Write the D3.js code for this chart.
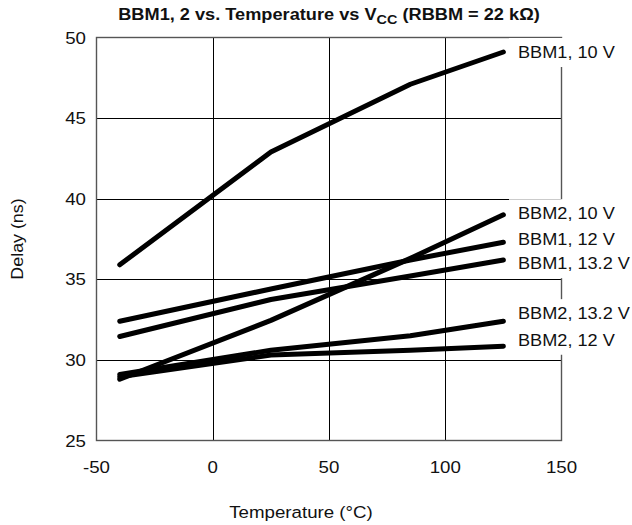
<!DOCTYPE html>
<html>
<head>
<meta charset="utf-8">
<script src="https://cdn.jsdelivr.net/npm/d3@7"></script>
<style>
  body { margin: 0; background: #fff; }
  svg text { font-family: "Liberation Sans", Arial, sans-serif; fill: #111; }
</style>
</head>
<body>
<svg id="chart" width="632" height="525"></svg>
<script>
// temperatures (°C) where the curves were measured
const temps = [-40, 25, 85, 125];

// delay (ns) per series
const bbm1_10 = [35.9, 42.9, 47.1, 49.1];
const bbm2_10 = [28.8, 32.45, 36.3, 39.0];
const bbm1_12 = [32.4, 34.4, 36.2, 37.3];
const bbm1_132 = [31.45, 33.75, 35.2, 36.2];
const bbm2_132 = [29.1, 30.6, 31.5, 32.4];
const bbm2_12 = [28.95, 30.3, 30.6, 30.85];

const seriesNames = ["BBM1, 10 V", "BBM2, 10 V", "BBM1, 12 V", "BBM1, 13.2 V", "BBM2, 13.2 V", "BBM2, 12 V"];
const seriesValues = [bbm1_10, bbm2_10, bbm1_12, bbm1_132, bbm2_132, bbm2_12];
// delay value at which each end label sits
const labelAt = [49.1, 39.1, 37.5, 36.0, 32.9, 31.25];

const xTicks = [-50, 0, 50, 100, 150];
const yTicks = [25, 30, 35, 40, 45, 50];

const config = {
    margin: { top: 37.5, right: 70.5, bottom: 84.5, left: 96.5 },
    width: 632,
    height: 525,
    stretch: 1.1   // the source text is a little wider than it is tall
};

const svg = d3.select("#chart");
const m = config.margin;

const x = d3.scaleLinear().domain([-50, 150]).range([m.left, config.width - m.right]);
const y = d3.scaleLinear().domain([25, 50]).range([config.height - m.bottom, m.top]);

const crisp = v => Math.round(v) + 0.5;
const place = (px, py, sx) => `translate(${px},${py}) scale(${sx || config.stretch},1)`;

// grid
svg.append("g").selectAll("line").data(xTicks.slice(1, -1)).enter().append("line")
    .attr("x1", d => crisp(x(d))).attr("x2", d => crisp(x(d)))
    .attr("y1", y(50)).attr("y2", y(25))
    .attr("stroke", "#000").attr("stroke-width", 1);

svg.append("g").selectAll("line").data(yTicks.slice(1, -1)).enter().append("line")
    .attr("x1", x(-50)).attr("x2", x(150))
    .attr("y1", d => crisp(y(d))).attr("y2", d => crisp(y(d)))
    .attr("stroke", "#000").attr("stroke-width", 1);

// frame
svg.append("rect")
    .attr("x", x(-50)).attr("y", y(50))
    .attr("width", x(150) - x(-50)).attr("height", y(25) - y(50))
    .attr("fill", "none").attr("stroke", "#555").attr("stroke-width", 1.4);

// curves
const line = d3.line().x((d, i) => x(temps[i])).y(d => y(d));
svg.append("g").selectAll("path").data(seriesValues).enter().append("path")
    .attr("d", d => line(d))
    .attr("fill", "none").attr("stroke", "#000").attr("stroke-width", 5)
    .attr("stroke-linecap", "round").attr("stroke-linejoin", "round");

// end labels on white boxes (they hide the frame behind them)
const labels = svg.append("g").selectAll("g").data(seriesNames).enter().append("g");
labels.append("rect")
    .attr("x", 509).attr("y", (d, i) => y(labelAt[i]) - 14)
    .attr("width", 123).attr("height", 29).attr("fill", "#fff");
labels.append("text")
    .attr("transform", (d, i) => place(518, y(labelAt[i]) + 6))
    .style("font-size", "16.5px").text(d => d);

// tick labels
svg.append("g").selectAll("text").data(xTicks).enter().append("text")
    .attr("transform", d => place(x(d), 473))
    .attr("text-anchor", "middle").style("font-size", "17px").text(d => d);

svg.append("g").selectAll("text").data(yTicks).enter().append("text")
    .attr("transform", d => place(86, y(d) + 6))
    .attr("text-anchor", "end").style("font-size", "17px").text(d => d);

// axis titles
svg.append("text")
    .attr("transform", place(301, 518))
    .attr("text-anchor", "middle").style("font-size", "17px").text("Temperature (°C)");

svg.append("text")
    .attr("transform", `translate(23,${(y(25) + y(50)) / 2}) rotate(-90) scale(1.05,1)`)
    .attr("text-anchor", "middle").style("font-size", "17px").text("Delay (ns)");

// title
const title = svg.append("text")
    .attr("transform", place((x(-50) + x(150)) / 2, 20, 1.07))
    .attr("text-anchor", "middle").style("font-size", "17px").style("font-weight", "bold");
title.append("tspan").text("BBM1, 2 vs. Temperature vs V");
title.append("tspan").attr("dy", 4).style("font-size", "13.5px").text("CC");
title.append("tspan").attr("dy", -4).text(" (RBBM = 22 kΩ)");
</script>
</body>
</html>
